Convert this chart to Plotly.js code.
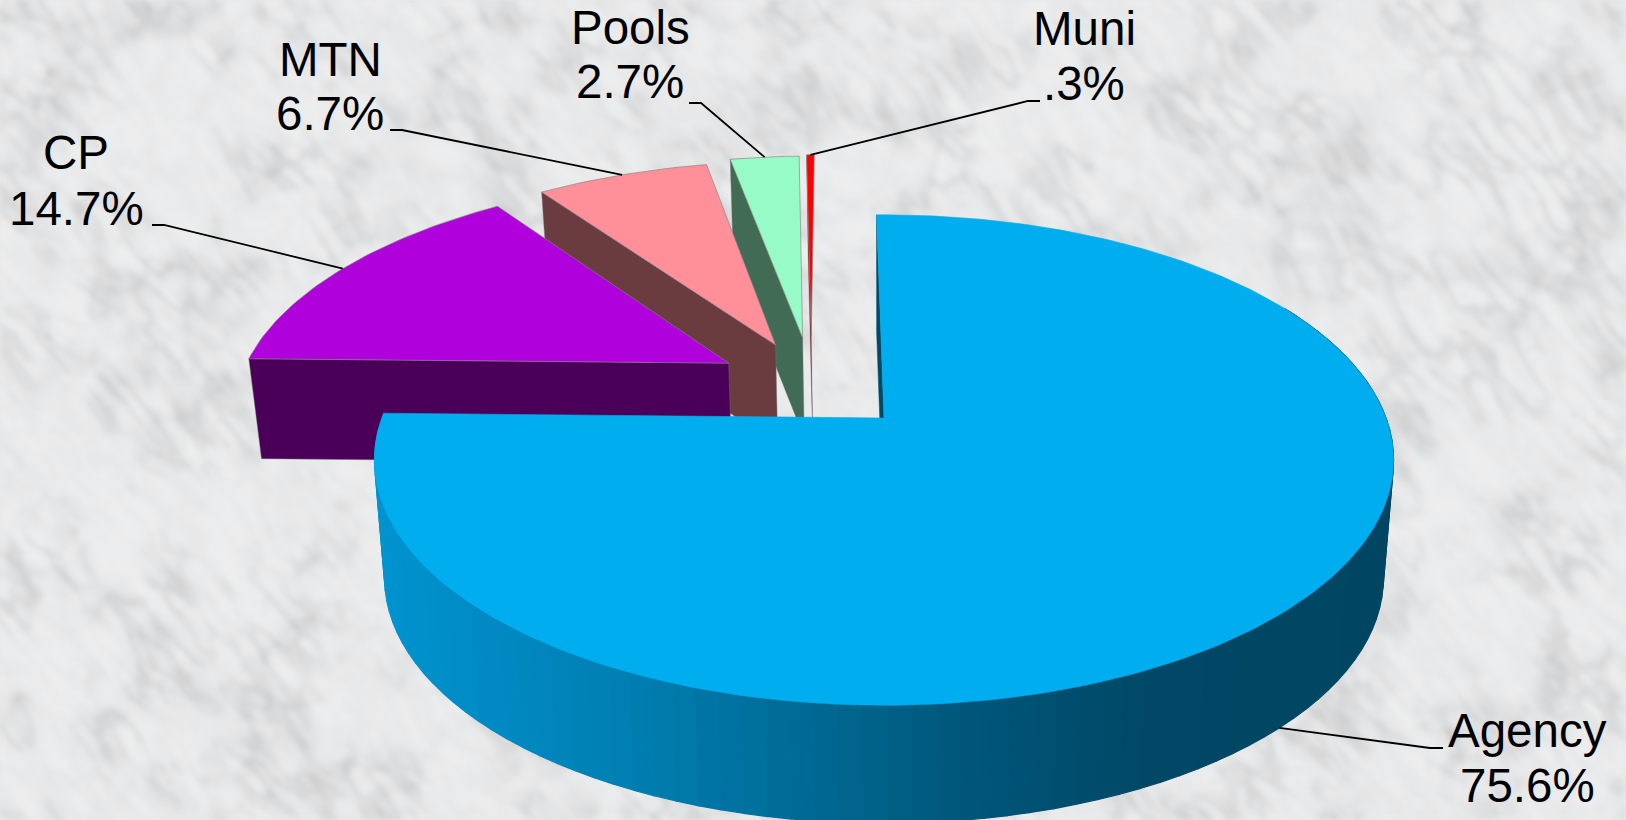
<!DOCTYPE html>
<html><head><meta charset="utf-8">
<script src="https://cdn.plot.ly/plotly-3.0.1.min.js"></script>
<style>html,body{margin:0;padding:0;background:#e9eaeb;overflow:hidden}#c{width:1626px;height:820px}</style>
</head><body><div id="c"></div>
<script>
// ---- data
const categories = ['Agency','CP','MTN','Pools','Muni'];
const shares = [75.6,14.7,6.7,2.7,0.3];
const shareLabels = ['75.6%','14.7%','6.7%','2.7%','.3%'];
const topColors = ['#00ADEF','#B000DC','#FF8F99','#96FBC6','#FF0000'];
const sideColors = ['#004A68','#4A0058','#6A3B3F','#426B55','#8B0000'];

// ---- drawing configuration: the pseudo-3D pie projection
const W=1626,H=820;
const cx=884,cy=418,rx=502,ry=238,k=0.1715,taper=0.02,startDeg=-1;
const explodeX=[0,-0.322,-0.228,-0.172,-0.154];
const explodeY=[0,0.24,0.324,0.357,0.365];
const depth=[118,100,100,100,100];
// label placement: [centre x, baseline of name, baseline of value], leader elbow
const labelX=[1527,76,330,630,1084], nameBase=[747,169,76,44,45], valueBase=[802,225,130,98,100];
const elbowA=[[1443,748],[152,225],[390,130],[689,103],[1040,101]];
const elbowB=[[1430,748],[164,225],[402,130],[701,103],[1028,101]];
const gradX=[380,500,640,800,950,1140,1400];
const gradC=[[0,148,208],[0,137,194],[0,126,176],[0,106,150],[0,88,124],[0,72,102],[0,70,98]];

function proj(X,Y,z,d){const w=1+k*Y;return [cx+rx*X/w*(1-taper*z), cy-ry*Y/w+d*z];}
function dir(deg){const a=deg*Math.PI/180;return [Math.sin(a),Math.cos(a)];}
function colorAt(x){let i=0;while(i<gradX.length-2&&x>gradX[i+1])i++;
  let t=(x-gradX[i])/(gradX[i+1]-gradX[i]);t=Math.max(0,Math.min(1,t));
  const c=gradC[i].map((v,j)=>Math.round(v+(gradC[i+1][j]-v)*t));return `rgb(${c})`;}

const total=shares.reduce((a,b)=>a+b,0);
const angles=[];let acc=startDeg;
shares.forEach(s=>{const a0=acc;acc+=s/total*360;angles.push([a0,acc]);});

function pt(i,deg,r,z){const d=dir(deg);return proj(d[0]*r+explodeX[i],d[1]*r+explodeY[i],z,depth[i]);}
function poly(pts,fill,line,lw){
  const x=pts.map(p=>p[0]).concat(pts[0][0]),y=pts.map(p=>p[1]).concat(pts[0][1]);
  return {type:'scatter',mode:'lines',x,y,fill:'toself',fillcolor:fill,
    line:{color:line||fill,width:lw===undefined?1.2:lw},hoverinfo:'skip',showlegend:false};
}
const traces=[];
// slices from back to front
[4,3,2,1].forEach(i=>{
  const [a0,a1]=angles[i];
  traces.push(poly([pt(i,a0,1,0),pt(i,a0,0,0),pt(i,a0,0,1),pt(i,a0,1,1)],sideColors[i],'rgba(120,120,120,0.6)',0.7));
  const top=[pt(i,0,0,0)];
  const n=Math.max(4,Math.ceil(a1-a0));
  for(let j=0;j<=n;j++)top.push(pt(i,a0+(a1-a0)*j/n,1,0));
  traces.push(poly(top,topColors[i],'rgba(130,130,130,0.8)',0.8));
});
// Agency: back radial face, curved wall, top
(function(){
  const i=0,[a0,a1]=angles[0];
  traces.push(poly([pt(i,a0,1,0),pt(i,a0,0,0),pt(i,a0,0,1),pt(i,a0,1,1)],sideColors[0],sideColors[0],0.5));
  const wallStart=60,step=(a1-wallStart)/90;
  for(let j=0;j<90;j++){
    const t0=wallStart+step*j,t1=t0+step;
    const p=[pt(i,t0,1,0),pt(i,t1,1,0),pt(i,t1,1,1),pt(i,t0,1,1)];
    traces.push(poly(p,colorAt(pt(i,(t0+t1)/2,1,1)[0])));
  }
  const top=[pt(i,0,0,0)];
  for(let j=0;j<=280;j++)top.push(pt(i,a0+(a1-a0)*j/280,1,0));
  traces.push(poly(top,topColors[0],topColors[0],0.6));
})();
// leader lines end on the middle of each slice's outer edge
categories.forEach((c,i)=>{
  const m=(angles[i][0]+angles[i][1])/2, end=pt(i,m,1,i===0?1:0);
  traces.push({type:'scatter',mode:'lines',x:[elbowA[i][0],elbowB[i][0],end[0]],y:[elbowA[i][1],elbowB[i][1],end[1]],
    line:{color:'#000',width:1.8},hoverinfo:'skip',showlegend:false});
});
const fontSize=47.5, baseShift=11;
const annotations=[];
categories.forEach((c,i)=>{
  [[c,nameBase[i]],[shareLabels[i],valueBase[i]]].forEach(([t,b])=>{
    annotations.push({x:labelX[i],y:b+baseShift,xref:'x',yref:'y',text:t,showarrow:false,xanchor:'center',yanchor:'bottom',borderpad:0,
      font:{family:'"Liberation Sans",Arial,sans-serif',size:fontSize,color:'#000'}});
  });
});

// ---- marble backdrop, a deterministic procedural texture
function marble(){
  const cw=813,ch=410,cv=document.createElement('canvas');cv.width=cw;cv.height=ch;
  const g=cv.getContext('2d'),im=g.createImageData(cw,ch),D=im.data;
  const h=(x,y)=>{const s=Math.sin(x*127.1+y*311.7)*43758.5453;return s-Math.floor(s);};
  const sm=t=>t*t*(3-2*t);
  const vn=(x,y)=>{const a=Math.floor(x),b=Math.floor(y),u=sm(x-a),v=sm(y-b);
    return (h(a,b)*(1-u)+h(a+1,b)*u)*(1-v)+(h(a,b+1)*(1-u)+h(a+1,b+1)*u)*v;};
  const fbm=(x,y,o)=>{let s=0,f=1,am=.5;for(let i=0;i<o;i++){s+=am*vn(x*f+i*7.3,y*f+i*3.1);f*=2;am*=.5;}return s;};
  const ca=Math.cos(-0.85),sa=Math.sin(-0.85);
  for(let j=0;j<ch;j++)for(let i=0;i<cw;i++){
    const u=(i*ca-j*sa),v=(i*sa+j*ca);
    const warp=fbm(u/30,v/30,2);
    const patch=Math.max(0.25,Math.min(1,(fbm(i/28+3,j/28+8,3)-.28)/.25));
    const f=fbm(u/26+warp*1.4,v/8+warp*1.4,3);
    const streak=Math.pow(Math.max(0,1-Math.abs(2*f-.9)/0.5),2);
    const f3=fbm(i/30+warp*2+11,j/30-warp*2,2);
    const web=Math.pow(Math.max(0,1-Math.abs(2*f3-.9)/0.32),2);
    const blot=Math.max(0,fbm(i/6+20,j/6+4,2)-.5)*2.4;
    const fine=fbm(u/9,v/4,2)-.42;
    let c=237-20*streak*patch-11*web*patch-16*blot*patch-22*Math.max(0,fine)*patch;
    const p=(j*cw+i)*4;D[p]=c;D[p+1]=c+0.5;D[p+2]=c+1.5;D[p+3]=255;
  }
  g.putImageData(im,0,0);
  const out=document.createElement('canvas');out.width=cw;out.height=ch;
  const o=out.getContext('2d');o.filter='blur(1px)';o.drawImage(cv,0,0);
  return out.toDataURL('image/png');
}

const layout={width:W,height:H,margin:{l:0,r:0,t:0,b:0},paper_bgcolor:'#e9eaeb',plot_bgcolor:'rgba(0,0,0,0)',
  showlegend:false,dragmode:false,hovermode:false,
  xaxis:{range:[0,W],visible:false,fixedrange:true},
  yaxis:{range:[H,0],visible:false,fixedrange:true},
  images:[{source:marble(),xref:'x',yref:'y',x:0,y:0,sizex:W,sizey:H,sizing:'stretch',xanchor:'left',yanchor:'top',layer:'below'}],
  annotations};
Plotly.newPlot('c',traces,layout,{staticPlot:true,displayModeBar:false});
</script></body></html>
